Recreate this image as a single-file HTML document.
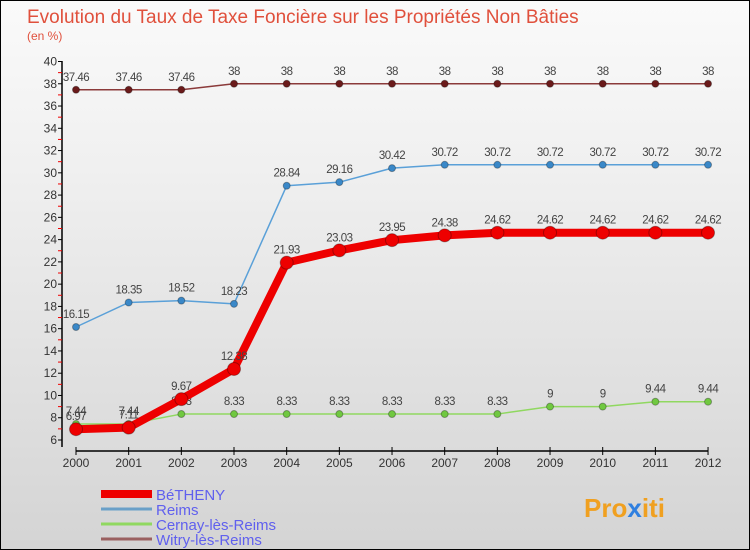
<!DOCTYPE html>
<html><head><meta charset="utf-8"><style>
body{margin:0}
#c{width:750px;height:550px;position:relative;overflow:hidden;background:linear-gradient(#fafafa,#f0f0f0 30%,#d4d4d4);border:1px solid #000;box-sizing:border-box;font-family:"Liberation Sans",sans-serif}
</style></head><body>
<div id="c">
<svg id="s" width="750" height="550">
<text x="26" y="22" font-size="19" fill="#e0503c">Evolution du Taux de Taxe Foncière sur les Propriétés Non Bâties</text>
<text x="26" y="39" font-size="12" fill="#e0503c">(en %)</text>
<g id="g"></g>
<text x="583" y="516" font-size="26" font-weight="bold" fill="#f0a020">Pro<tspan fill="#3080e0">x</tspan>iti</text>
</svg></div>
<script>
const years=[2000,2001,2002,2003,2004,2005,2006,2007,2008,2009,2010,2011,2012];
const betheny=[6.97,7.11,9.67,12.38,21.93,23.03,23.95,24.38,24.62,24.62,24.62,24.62,24.62];
const reims=[16.15,18.35,18.52,18.23,28.84,29.16,30.42,30.72,30.72,30.72,30.72,30.72,30.72];
const cernay=[7.44,7.44,8.33,8.33,8.33,8.33,8.33,8.33,8.33,9,9,9.44,9.44];
const witry=[37.46,37.46,37.46,38,38,38,38,38,38,38,38,38,38];
const yTicks=[6,8,10,12,14,16,18,20,22,24,26,28,30,32,34,36,38,40];
const names=["BéTHENY","Reims","Cernay-lès-Reims","Witry-lès-Reims"];
const NS="http://www.w3.org/2000/svg";
const g=document.getElementById('g');
const X=i=>75+i*52.67;
const Y=v=>439-(v-6)*(378.5/34);
function el(t,a,p){const e=document.createElementNS(NS,t);for(const k in a)e.setAttribute(k,a[k]);(p||g).appendChild(e);return e;}
let ax=el('line',{x1:61,y1:60,x2:61,y2:446,stroke:'#000','stroke-width':1.5});


yTicks.forEach(v=>{
 el('line',{x1:57,y1:Y(v),x2:61,y2:Y(v),stroke:'#000'});
 if(v<40)el('line',{x1:57,y1:Y(v+1),x2:61,y2:Y(v+1),stroke:'#e00'});
 const t=el('text',{x:56,y:Y(v)+4,'font-size':12,fill:'#333','text-anchor':'end'});t.textContent=v;
 
 
});
let xa=el('line',{x1:75,y1:450,x2:707,y2:450,stroke:'#000','stroke-width':1.5});


years.forEach((y,i)=>{
 el('line',{x1:X(i),y1:446,x2:X(i),y2:454,stroke:'#000'});
 const t=el('text',{x:X(i),y:466,'font-size':12,fill:'#333','text-anchor':'middle'});t.textContent=y;
 
 
});
function series(d,col,w,r,name,dotc){
 const p=el('polyline',{points:d.map((v,i)=>X(i)+','+Y(v)).join(' '),fill:'none',stroke:col,'stroke-width':w,'stroke-linejoin':'round'});
 
 
 d.forEach((v,i)=>{
  const c=el('circle',{cx:X(i),cy:Y(v),r:r,fill:dotc,stroke:'rgba(0,0,0,0.3)'});
  
  
  const t=el('text',{x:X(i),y:Y(v)-9,'font-size':11.5,fill:'#444','text-anchor':'middle','letter-spacing':'-0.5'});t.textContent=v;
  
  
 });
}
series(witry,'#8b3a3a',1.5,3.5,'witry','#6a1a1a');
series(reims,'#5aa0d8',1.5,3.5,'reims','#3a88c8');
series(cernay,'#90d860',1.5,3.5,'cernay','#70c840');
series(betheny,'#ee0000',8,6.5,'betheny','#ee0000');
const lc=['#ee0000','#6aa0c8','#90d860','#9a6060'],lw=[8,3,3,3];
names.forEach((n,i)=>{
 const y=493+i*15;
 const l=el('line',{x1:100,y1:y,x2:151,y2:y,stroke:lc[i],'stroke-width':lw[i]});
 
 
 const t=el('text',{x:155,y:y+6,'font-size':15,fill:'#6060ee'});t.textContent=n;
 
 
});
</script>
</body></html>
